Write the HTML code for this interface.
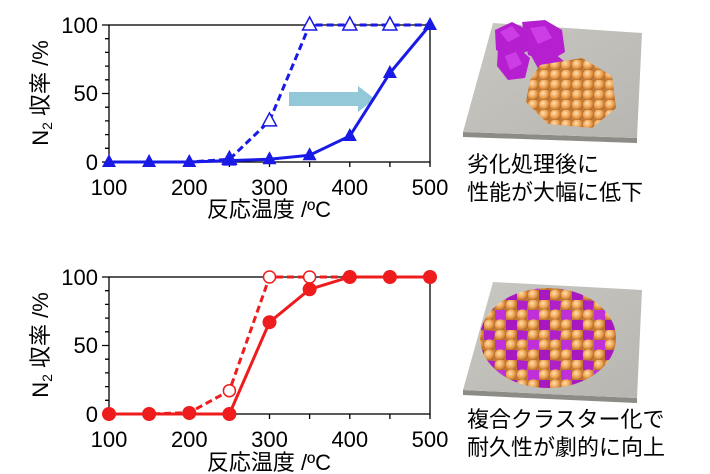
<!DOCTYPE html>
<html><head><meta charset="utf-8"><style>
html,body{margin:0;padding:0;background:#fff;}
svg{display:block;}
text{font-family:"Liberation Sans","Noto Sans CJK JP",sans-serif;fill:#000;}
</style></head><body>
<svg width="710" height="474" viewBox="0 0 710 474" xmlns="http://www.w3.org/2000/svg">
<defs>
<radialGradient id="ball" cx="0.38" cy="0.35" r="0.7">
<stop offset="0" stop-color="#ffe0b0"/><stop offset="0.5" stop-color="#f0a455"/><stop offset="1" stop-color="#a8601e"/>
</radialGradient>
<pattern id="balls" x="0" y="0" width="11" height="10" patternUnits="userSpaceOnUse">
<rect width="11" height="10" fill="#c07a35"/>
<circle cx="5.5" cy="5" r="5.6" fill="url(#ball)"/>
</pattern>
<pattern id="mix" x="0" y="0" width="33" height="30" patternUnits="userSpaceOnUse">
<rect width="33" height="30" fill="#c07a35"/>
<circle cx="5.5" cy="5" r="5.6" fill="url(#ball)"/>
<circle cx="16.5" cy="5" r="5.6" fill="url(#ball)"/>
<polygon points="22,0 33,1 32,10 22,10" fill="#b020c8"/>
<polygon points="0,10 11,10 11,20 0,20" fill="#c030d8"/>
<circle cx="16.5" cy="15" r="5.6" fill="url(#ball)"/>
<circle cx="27.5" cy="15" r="5.6" fill="url(#ball)"/>
<circle cx="5.5" cy="25" r="5.6" fill="url(#ball)"/>
<polygon points="11,20 22,20 22,30 11,30" fill="#a818c0"/>
<circle cx="27.5" cy="25" r="5.6" fill="url(#ball)"/>
</pattern>
<linearGradient id="slab" x1="0" y1="0" x2="1" y2="1"><stop offset="0" stop-color="#c9c7c1"/><stop offset="1" stop-color="#b8b6b0"/></linearGradient>
</defs>

<!-- TOP CHART -->
<g stroke="#000" stroke-width="1.3" fill="none">
<rect x="109" y="25" width="321" height="137"/>
<path d="M109 25h-7M109 93.5h-7M109 162h-7M109 38.7h-4M109 52.4h-4M109 66.1h-4M109 79.8h-4M109 107.2h-4M109 120.9h-4M109 134.6h-4M109 148.3h-4"/>
<path d="M109 162v5M149.1 162v5M189.3 162v5M229.4 162v5M269.5 162v5M309.6 162v5M349.8 162v5M389.9 162v5M430 162v5"/>
</g>
<g font-size="22" text-anchor="end"><text x="98" y="33">100</text><text x="98" y="101">50</text><text x="98" y="170">0</text></g>
<g font-size="22" text-anchor="middle"><text x="109" y="195">100</text><text x="189.3" y="195">200</text><text x="269.5" y="195">300</text><text x="349.8" y="195">400</text><text x="430" y="195">500</text></g>
<text x="269" y="217" font-size="22" text-anchor="middle">反応温度 /ºC</text>
<text transform="translate(48,93) rotate(-90)" font-size="22" text-anchor="middle">N<tspan font-size="14" dy="4">2</tspan><tspan dy="-4"> 収率  /%</tspan></text>
<polygon points="289,92 358,92 358,86 375,99 358,112 358,106 289,106" fill="#92c8d8"/>
<polyline points="109,162 149.1,162 189.3,162 229.4,159.3 269.5,120.9 309.6,25 349.8,25 389.9,25 430,25" fill="none" stroke="#1a1ae6" stroke-width="3" stroke-dasharray="7,4"/>
<polyline points="109,162 149.1,162 189.3,162 229.4,160.6 269.5,159.3 309.6,155.2 349.8,136 389.9,73 430,25" fill="none" stroke="#1a1ae6" stroke-width="3"/>
<g fill="#fff" stroke="#1a1ae6" stroke-width="1.5">
<polygon points="229.4,151.3 222.4,164.3 236.4,164.3"/><polygon points="269.5,112.9 262.5,125.9 276.5,125.9"/>
<polygon points="309.6,17 302.6,30 316.6,30"/><polygon points="349.8,17 342.8,30 356.8,30"/><polygon points="389.9,17 382.9,30 396.9,30"/>
</g>
<g fill="#1a1ae6">
<polygon points="109,154 102,167 116,167"/><polygon points="149.1,154 142.1,167 156.1,167"/><polygon points="189.3,154 182.3,167 196.3,167"/>
<polygon points="229.4,152.6 222.4,165.6 236.4,165.6"/><polygon points="269.5,151.3 262.5,164.3 276.5,164.3"/><polygon points="309.6,147.2 302.6,160.2 316.6,160.2"/>
<polygon points="349.8,128 342.8,141 356.8,141"/><polygon points="389.9,65 382.9,78 396.9,78"/><polygon points="430,17 423,30 437,30"/>
</g>

<!-- BOTTOM CHART -->
<g stroke="#000" stroke-width="1.3" fill="none">
<rect x="109" y="277" width="321" height="137"/>
<path d="M109 277h-7M109 345.5h-7M109 414h-7M109 290.7h-4M109 304.4h-4M109 318.1h-4M109 331.8h-4M109 359.2h-4M109 372.9h-4M109 386.6h-4M109 400.3h-4"/>
<path d="M109 414v5M149.1 414v5M189.3 414v5M229.4 414v5M269.5 414v5M309.6 414v5M349.8 414v5M389.9 414v5M430 414v5"/>
</g>
<g font-size="22" text-anchor="end"><text x="98" y="285">100</text><text x="98" y="353">50</text><text x="98" y="422">0</text></g>
<g font-size="22" text-anchor="middle"><text x="109" y="447">100</text><text x="189.3" y="447">200</text><text x="269.5" y="447">300</text><text x="349.8" y="447">400</text><text x="430" y="447">500</text></g>
<text x="269" y="470" font-size="22" text-anchor="middle">反応温度 /ºC</text>
<text transform="translate(48,345) rotate(-90)" font-size="22" text-anchor="middle">N<tspan font-size="14" dy="4">2</tspan><tspan dy="-4"> 収率  /%</tspan></text>
<polyline points="109,414 149.1,414 189.3,412.6 229.4,390.7 269.5,277 309.6,277 349.8,277 389.9,277 430,277" fill="none" stroke="#ee1c1c" stroke-width="3" stroke-dasharray="7,4"/>
<polyline points="109,414 149.1,414 189.3,414 229.4,414 269.5,322.2 309.6,289.3 349.8,277 389.9,277 430,277" fill="none" stroke="#ee1c1c" stroke-width="3"/>
<g fill="#fff" stroke="#ee1c1c" stroke-width="1.5">
<circle cx="229.4" cy="390.7" r="6"/><circle cx="269.5" cy="277" r="6"/><circle cx="309.6" cy="277" r="6"/>
</g>
<g fill="#ee1c1c">
<circle cx="109" cy="414" r="7"/><circle cx="149.1" cy="414" r="7"/><circle cx="189.3" cy="413" r="7"/><circle cx="229.4" cy="414" r="7"/>
<circle cx="269.5" cy="322.2" r="7"/><circle cx="309.6" cy="289.3" r="7"/><circle cx="349.8" cy="277" r="7"/><circle cx="389.9" cy="277" r="7"/><circle cx="430" cy="277" r="7"/>
</g>

<!-- RIGHT ILLUSTRATIONS -->
<polygon points="463,132 637,138 637,143 463,137" fill="#8d8b86"/>
<polygon points="493,23 642,33 637,138 463,132" fill="url(#slab)"/>
<g fill="#b51fd0">
<polygon points="495,30 512,22 528,30 530,50 512,58 496,50"/>
<polygon points="522,22 545,20 562,30 565,52 548,62 528,55"/>
<polygon points="498,48 515,45 530,58 525,78 508,80 497,66"/>
<polygon points="528,50 550,50 565,62 560,75 540,72"/>
</g>
<g fill="#d84af0" opacity="0.7">
<polygon points="500,32 512,26 520,36 508,42"/><polygon points="530,28 545,26 552,38 538,44"/><polygon points="505,56 516,52 522,64 510,70"/>
</g>
<polygon points="540,65 582,58 612,76 616,108 592,128 548,124 526,102 530,80" fill="url(#balls)"/>

<polygon points="463,390 637,398 637,403 463,395" fill="#8d8b86"/>
<polygon points="493,282 642,290 637,398 463,390" fill="url(#slab)"/>
<ellipse cx="548" cy="338" rx="68" ry="50" fill="url(#mix)"/>

<g font-size="22">
<text x="467" y="172">劣化処理後に</text>
<text x="467" y="200">性能が大幅に低下</text>
<text x="467" y="427">複合クラスター化で</text>
<text x="467" y="455">耐久性が劇的に向上</text>
</g>
</svg>
</body></html>
